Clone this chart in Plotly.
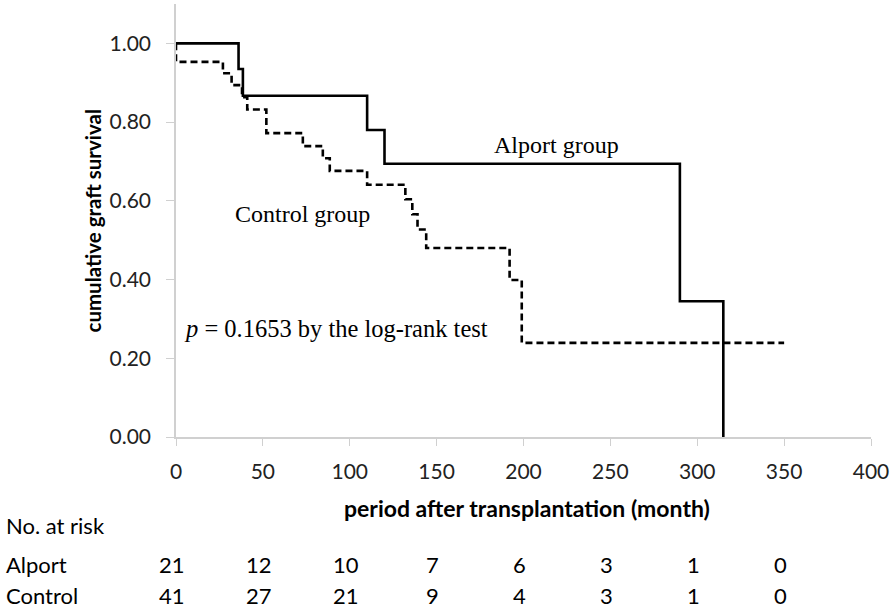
import plotly.graph_objects as go

# ---- data ----
alport_time = [0, 36, 38.5, 110, 120, 290, 315]
alport_surv = [1.00, 0.935, 0.867, 0.780, 0.694, 0.345, 0.0]

control_time = [0, 0, 27, 32, 38, 41, 52, 73, 84.5, 88.5, 110, 132, 136, 139, 144, 192, 199, 350]
control_surv = [1.00, 0.953, 0.924, 0.894, 0.863, 0.832, 0.772, 0.739, 0.708, 0.676,
                0.641, 0.604, 0.566, 0.527, 0.480, 0.399, 0.239, 0.239]

risk_times = [0, 50, 100, 150, 200, 250, 300, 350]
risk_alport = [21, 12, 10, 7, 6, 3, 1, 0]
risk_control = [41, 27, 21, 9, 4, 3, 1, 0]

x_ticks = [0, 50, 100, 150, 200, 250, 300, 350, 400]
y_ticks = [0.0, 0.2, 0.4, 0.6, 0.8, 1.0]
y_tick_labels = ["0.00", "0.20", "0.40", "0.60", "0.80", "1.00"]

# ---- layout constants (pixels) ----
W, H = 894, 610
ML, MR, MT, MB = 176, 23, 4, 173
PW = W - ML - MR
PH = H - MT - MB


def py(pix):
    """pixel y (from top of figure) -> paper y"""
    return (H - MB - pix) / PH


def px(pix):
    return (pix - ML) / PW


SANS = "Lato, 'Open Sans', sans-serif"
SERIF = "'Liberation Serif', 'Times New Roman', serif"

fig = go.Figure()
fig.add_trace(go.Scatter(
    x=alport_time, y=alport_surv, mode="lines", line_shape="hv",
    line=dict(color="black", width=2.6), name="Alport group", showlegend=False,
    hoverinfo="skip"))
fig.add_trace(go.Scatter(
    x=control_time, y=control_surv, mode="lines", line_shape="hv",
    line=dict(color="black", width=2.6, dash="7px,4px"), name="Control group",
    showlegend=False, hoverinfo="skip"))

annotations = []
# in-plot labels
annotations.append(dict(x=219, y=0.742, xref="x", yref="y", text="Alport group",
                        showarrow=False, font=dict(family=SERIF, size=24, color="black")))
annotations.append(dict(x=73, y=0.567, xref="x", yref="y", text="Control group",
                        showarrow=False, font=dict(family=SERIF, size=24, color="black")))
annotations.append(dict(x=px(182), y=0.275, xref="paper", yref="y", xanchor="left",
                        text="<i>p</i> = 0.1653 by the log-rank test",
                        showarrow=False, font=dict(family=SERIF, size=24.5, color="black")))

# risk table
annotations.append(dict(x=px(4), y=py(525), xref="paper", yref="paper", xanchor="left",
                        yanchor="middle", text="No. at risk", showarrow=False,
                        font=dict(family=SANS, size=22, color="black")))
for label, vals, ypix in [("Alport", risk_alport, 564), ("Control", risk_control, 595)]:
    annotations.append(dict(x=px(4), y=py(ypix), xref="paper", yref="paper",
                            xanchor="left", yanchor="middle", text=label, showarrow=False,
                            font=dict(family=SANS, size=22, color="black")))
    for t, v in zip(risk_times, vals):
        annotations.append(dict(x=t, y=py(ypix), xref="x", yref="paper", xshift=-4,
                                xanchor="center", yanchor="middle", text=str(v),
                                showarrow=False,
                                font=dict(family=SANS, size=22, color="black")))

# axis titles
annotations.append(dict(x=px(527), y=py(508), xref="paper", yref="paper", xanchor="center",
                        yanchor="middle", text="<b>period after transplantation (month)</b>",
                        showarrow=False, font=dict(family=SANS, size=23, color="black")))
annotations.append(dict(x=px(92), y=0.5, xref="paper", yref="paper", xanchor="center",
                        yanchor="middle", textangle=-90,
                        text="<b>cumulative graft survival</b>",
                        showarrow=False, font=dict(family=SANS, size=20.5, color="black")))

fig.update_layout(
    width=W, height=H,
    margin=dict(l=ML, r=MR, t=MT, b=MB),
    paper_bgcolor="white", plot_bgcolor="white",
    annotations=annotations,
    xaxis=dict(range=[0, 400], tickvals=x_ticks, ticktext=[str(v) for v in x_ticks],
               showgrid=False, zeroline=False, showline=True, linecolor="#d0d0d0",
               linewidth=1.5, ticks="outside", ticklen=7, tickcolor="#d0d0d0",
               tickfont=dict(family=SANS, size=21, color="#222222"),
               ticklabelstandoff=8),
    yaxis=dict(range=[0, 1.1], tickvals=y_ticks, ticktext=y_tick_labels,
               showgrid=False, zeroline=False, showline=True, linecolor="#d0d0d0",
               linewidth=1.5, ticks="outside", ticklen=8, tickcolor="#d0d0d0",
               tickfont=dict(family=SANS, size=21, color="#222222"),
               ticklabelstandoff=11),
)

fig.write_html("out.html", config={"displayModeBar": False},
               post_script="document.body.style.margin='0';document.body.style.overflow='hidden';")
